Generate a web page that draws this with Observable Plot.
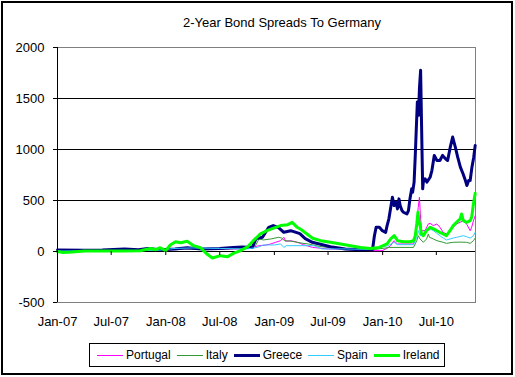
<!DOCTYPE html>
<html><head><meta charset="utf-8">
<script src="https://cdn.jsdelivr.net/npm/d3@7"></script>
<script src="https://cdn.jsdelivr.net/npm/@observablehq/plot@0.6"></script>
<style>
body{margin:0;background:#fff;}
#wrap{position:relative;width:515px;height:377px;overflow:hidden;font-family:"Liberation Sans",Arial,sans-serif;color:#000;background:#fff;}
#chart{position:absolute;left:0;top:0;}
#border{position:absolute;left:1px;top:1px;width:512px;height:374px;border:2px solid #000;box-sizing:border-box;pointer-events:none;}
#title{position:absolute;left:0;width:564px;top:15px;line-height:15px;text-align:center;font-size:13px;}
#legend{position:absolute;left:89px;top:343px;width:356px;height:24px;border:1px solid #000;box-sizing:border-box;display:flex;align-items:center;padding-left:7px;font-size:12px;}
.item{display:flex;align-items:center;margin-right:6px;white-space:nowrap;}
.sw{width:26px;margin-right:3px;}
</style>
</head><body>
<div id="wrap">
  <div id="chart"></div>
  <div id="title"></div>
  <div id="legend"></div>
  <div id="border"></div>
</div>
<script>
const titleText = "2-Year Bond Spreads To Germany";
const seriesNames = ["Portugal", "Italy", "Greece", "Spain", "Ireland"];
const yTicks = [-500, 0, 500, 1000, 1500, 2000];
const xTickLabels = ["2007-01-01","2007-07-01","2008-01-01","2008-07-01","2009-01-01","2009-07-01","2010-01-01","2010-07-01"];
const xStart = "2007-01-01";
const xEnd = "2010-11-10";

const portugal = [
["2007-01-01",5],["2007-06-01",8],["2007-12-01",12],["2008-03-01",25],["2008-06-01",22],["2008-09-15",25],["2008-10-25",45],["2008-11-10",57],["2008-12-01",62],["2008-12-20",74],["2009-01-05",90],["2009-01-22",106],["2009-02-02",139],["2009-02-08",100],["2009-02-25",106],["2009-03-20",90],["2009-04-09",67],["2009-05-10",40],["2009-07-01",25],["2009-09-01",20],["2009-10-20",12],["2009-11-20",8],["2009-12-30",8],["2010-01-15",30],["2010-01-28",57],["2010-02-08",106],["2010-02-20",74],["2010-03-15",74],["2010-04-15",74],["2010-04-21",139],["2010-04-26",270],["2010-05-01",433],["2010-05-05",532],["2010-05-08",368],["2010-05-12",204],["2010-05-24",204],["2010-06-04",270],["2010-06-10",276],["2010-06-21",254],["2010-07-03",270],["2010-07-13",237],["2010-07-24",188],["2010-08-04",172],["2010-08-16",204],["2010-08-27",237],["2010-09-07",270],["2010-09-19",286],["2010-09-30",303],["2010-10-11",270],["2010-10-23",204],["2010-10-28",237],["2010-11-03",300],["2010-11-09",350]
];
const italy = [
["2007-01-01",5],["2007-06-01",6],["2007-12-01",12],["2008-03-01",25],["2008-07-01",25],["2008-10-01",30],["2008-10-30",60],["2008-11-10",123],["2008-11-25",113],["2008-12-20",123],["2009-01-15",139],["2009-01-25",132],["2009-02-05",106],["2009-03-01",100],["2009-04-01",83],["2009-04-25",74],["2009-06-01",50],["2009-07-15",35],["2009-09-01",25],["2009-11-20",15],["2009-12-30",30],["2010-01-25",40],["2010-04-15",40],["2010-04-26",106],["2010-05-01",155],["2010-05-07",123],["2010-05-18",90],["2010-05-29",123],["2010-06-04",172],["2010-06-08",139],["2010-06-21",123],["2010-07-03",106],["2010-07-24",90],["2010-08-04",80],["2010-08-27",90],["2010-09-19",92],["2010-10-11",90],["2010-10-23",80],["2010-11-03",106],["2010-11-09",132]
];
const greece = [
["2007-01-01",15],["2007-04-01",12],["2007-06-01",15],["2007-08-15",25],["2007-10-01",18],["2007-11-01",30],["2007-12-13",18],["2008-02-01",25],["2008-03-13",37],["2008-05-01",25],["2008-07-01",30],["2008-08-15",40],["2008-09-15",45],["2008-10-19",40],["2008-10-31",126],["2008-11-22",139],["2008-12-13",237],["2008-12-28",254],["2009-01-15",235],["2009-02-02",188],["2009-02-25",204],["2009-03-28",175],["2009-04-15",126],["2009-05-09",90],["2009-06-12",67],["2009-07-09",47],["2009-08-28",25],["2009-10-18",18],["2009-11-28",20],["2009-12-04",150],["2009-12-10",237],["2009-12-21",237],["2009-12-31",204],["2010-01-11",188],["2010-01-16",254],["2010-01-22",320],["2010-02-03",532],["2010-02-09",450],["2010-02-15",483],["2010-02-20",418],["2010-02-25",516],["2010-03-01",450],["2010-03-07",401],["2010-03-12",385],["2010-03-24",368],["2010-03-29",401],["2010-04-03",516],["2010-04-09",614],["2010-04-12",581],["2010-04-17",679],["2010-04-21",942],["2010-04-24",1171],["2010-04-28",1466],["2010-05-02",1335],["2010-05-05",1600],["2010-05-09",1777],["2010-05-12",1269],["2010-05-14",942],["2010-05-16",614],["2010-05-18",680],["2010-05-24",713],["2010-05-30",680],["2010-06-10",728],["2010-06-16",794],["2010-06-24",942],["2010-07-03",892],["2010-07-13",892],["2010-07-22",942],["2010-08-01",909],["2010-08-08",892],["2010-08-17",1023],["2010-08-25",1122],["2010-09-03",1023],["2010-09-11",925],["2010-09-20",827],["2010-09-29",762],["2010-10-07",696],["2010-10-12",647],["2010-10-18",696],["2010-10-23",696],["2010-10-29",827],["2010-11-04",925],["2010-11-09",1040]
];
const spain = [
["2007-01-01",5],["2007-06-01",6],["2007-12-01",10],["2008-02-01",30],["2008-04-01",35],["2008-07-01",30],["2008-10-01",25],["2008-11-05",40],["2008-11-25",64],["2009-01-01",64],["2009-01-22",74],["2009-02-02",40],["2009-02-10",57],["2009-03-01",57],["2009-05-15",57],["2009-06-10",25],["2009-09-01",25],["2009-11-20",20],["2009-12-30",45],["2010-01-20",57],["2010-02-08",90],["2010-02-20",67],["2010-04-15",67],["2010-04-26",139],["2010-05-02",204],["2010-05-07",155],["2010-05-18",172],["2010-05-29",204],["2010-06-10",221],["2010-06-21",204],["2010-07-03",178],["2010-07-13",155],["2010-07-24",132],["2010-08-04",113],["2010-08-16",123],["2010-08-27",132],["2010-09-07",139],["2010-09-30",155],["2010-10-11",145],["2010-10-23",132],["2010-11-03",155],["2010-11-09",188]
];
const ireland = [
["2007-01-01",0],["2007-01-20",-10],["2007-02-20",-5],["2007-04-01",5],["2007-08-01",5],["2007-10-07",8],["2007-11-10",30],["2007-11-28",18],["2007-12-13",37],["2008-01-01",8],["2008-01-16",64],["2008-02-03",96],["2008-02-20",86],["2008-03-13",100],["2008-04-04",57],["2008-04-27",37],["2008-05-19",-25],["2008-06-06",-64],["2008-07-03",-41],["2008-07-27",-51],["2008-08-16",-18],["2008-09-09",8],["2008-10-03",47],["2008-10-22",106],["2008-11-15",172],["2008-12-07",204],["2009-01-01",231],["2009-01-22",254],["2009-02-15",263],["2009-03-02",286],["2009-03-19",237],["2009-04-01",215],["2009-04-21",172],["2009-05-10",130],["2009-06-06",106],["2009-07-09",90],["2009-08-12",74],["2009-09-15",57],["2009-10-18",40],["2009-11-21",30],["2009-12-20",40],["2010-01-16",74],["2010-01-28",123],["2010-02-09",155],["2010-02-20",106],["2010-03-12",96],["2010-04-03",96],["2010-04-15",106],["2010-04-21",155],["2010-04-26",270],["2010-04-30",385],["2010-05-03",303],["2010-05-07",254],["2010-05-12",172],["2010-05-18",155],["2010-05-29",204],["2010-06-10",237],["2010-06-21",221],["2010-07-03",204],["2010-07-13",188],["2010-07-24",172],["2010-08-04",155],["2010-08-16",204],["2010-08-27",254],["2010-09-07",286],["2010-09-19",319],["2010-09-24",368],["2010-09-30",303],["2010-10-11",286],["2010-10-23",303],["2010-10-28",335],["2010-11-03",467],["2010-11-09",570]
];

const seriesData = [portugal, italy, greece, spain, ireland];
const seriesColors = ["#FF00FF", "#339933", "#000080", "#33CCFF", "#00FF00"];
const seriesWidths = [1, 1, 3, 1, 3];

const parse = d3.utcParse("%Y-%m-%d");
const xDomain = [parse(xStart), parse(xEnd)];
const xTicks = xTickLabels.map(parse);

const chart = Plot.plot({
  width: 515, height: 377,
  marginLeft: 57, marginRight: 40, marginTop: 47, marginBottom: 75,
  style: {fontFamily: "'Liberation Sans', Arial, sans-serif", fontSize: "13px", color: "#000", background: "transparent", overflow: "visible"},
  x: {type: "utc", domain: xDomain},
  y: {domain: [yTicks[0], yTicks[yTicks.length - 1]]},
  marks: [
    Plot.frame({stroke: "#808080"}),
    Plot.ruleY(yTicks.slice(2, -1), {stroke: "#000"}),
    Plot.ruleY([0], {stroke: "#000"}),
    ...seriesData.map((data, i) => Plot.line(data, {
      x: d => parse(d[0]), y: d => d[1],
      stroke: seriesColors[i], strokeWidth: seriesWidths[i], strokeLinejoin: "round"
    })),
    Plot.ruleX(xTicks, {x: d => d, y1: 0, y2: 0, insetBottom: -4, stroke: "#000"}),
    Plot.ruleX([xDomain[0]], {stroke: "#000"}),
    Plot.axisY({ticks: yTicks, tickSize: 4, tickPadding: 9, tickFormat: d => String(d), label: null}),
    Plot.axisX({ticks: xTicks, tickSize: 0, tickPadding: 14, tickFormat: d3.utcFormat("%b-%y"), label: null})
  ]
});
document.getElementById("chart").appendChild(chart);
document.getElementById("title").textContent = titleText;

const legend = document.getElementById("legend");
seriesNames.forEach((name, i) => {
  const item = document.createElement("div");
  item.className = "item";
  const sw = document.createElement("div");
  sw.className = "sw";
  sw.style.borderTop = `${seriesWidths[i]}px solid ${seriesColors[i]}`;
  const label = document.createElement("span");
  label.textContent = name;
  item.appendChild(sw);
  item.appendChild(label);
  legend.appendChild(item);
});
</script>
</body></html>
